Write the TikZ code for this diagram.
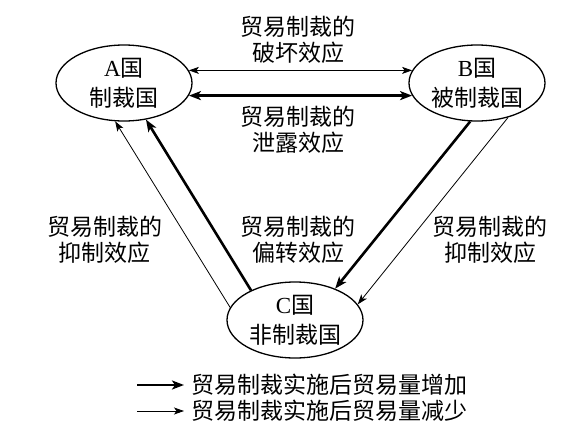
\documentclass[tikz,border=0pt]{standalone}
\usepackage{fontspec}
\setmainfont{Liberation Serif}
\newfontfamily\cjk{Noto Sans CJK SC}
\usetikzlibrary{shapes.geometric,arrows.meta}
\begin{document}
\begin{tikzpicture}[x=1pt,y=-1pt,
  country/.style={ellipse,draw,line width=1.3pt,minimum width=136pt,minimum height=76pt,inner sep=0pt,align=center,font=\fontsize{23}{30}\selectfont\cjk},
  lbl/.style={align=center,font=\fontsize{23}{26}\selectfont\cjk,inner sep=0pt},
  heavyarrow/.style={line width=2.6pt,-{Stealth[length=12pt,width=9pt,inset=3pt]}},
  lightarrow/.style={line width=0.8pt,-{Stealth[length=10pt,width=7pt,inset=2.5pt]}},
  heavyboth/.style={line width=2.6pt,{Stealth[length=12pt,width=9pt,inset=3pt]}-{Stealth[length=12pt,width=9pt,inset=3pt]}},
  lightboth/.style={line width=0.8pt,{Stealth[length=10pt,width=7pt,inset=2.5pt]}-{Stealth[length=10pt,width=7pt,inset=2.5pt]}}]
\useasboundingbox (0,0) rectangle (582,432);
% countries
\node[country] (A) at (124,83) {{\rmfamily A}国\\制裁国};
\node[country] (B) at (477,83) {{\rmfamily B}国\\被制裁国};
\node[country] (C) at (295,320) {{\rmfamily C}国\\非制裁国};
% labels
\node[lbl] (t1) at (298,40) {贸易制裁的\\破坏效应};
\node[lbl] (t2) at (298,130) {贸易制裁的\\泄露效应};
\node[lbl] (t3) at (105,240) {贸易制裁的\\抑制效应};
\node[lbl] (t4) at (298,240) {贸易制裁的\\偏转效应};
\node[lbl] (t5) at (490,240) {贸易制裁的\\抑制效应};
% connectors
\draw[lightboth] (A.11) -- (B.169);
\draw[heavyboth] (A.-11) -- (B.191);
\draw[lightarrow] (C.169) -- (A.-103);
\draw[heavyarrow] (C.146) -- (A.-59);
\draw[heavyarrow] (B.-100) -- (C.38);
\draw[lightarrow] (B.-48.5) -- (C.14);
% legend
\node[lbl,anchor=west] (L1) at (191,385) {贸易制裁实施后贸易量增加};
\node[lbl,anchor=west] (L2) at (191,411) {贸易制裁实施后贸易量减少};
\coordinate (l1s) at (137,385);
\coordinate (l2s) at (137,411);
\draw[heavyarrow] (l1s) -- ([xshift=-7pt]L1.west);
\draw[lightarrow] (l2s) -- ([xshift=-7pt]L2.west);
\end{tikzpicture}
\end{document}
